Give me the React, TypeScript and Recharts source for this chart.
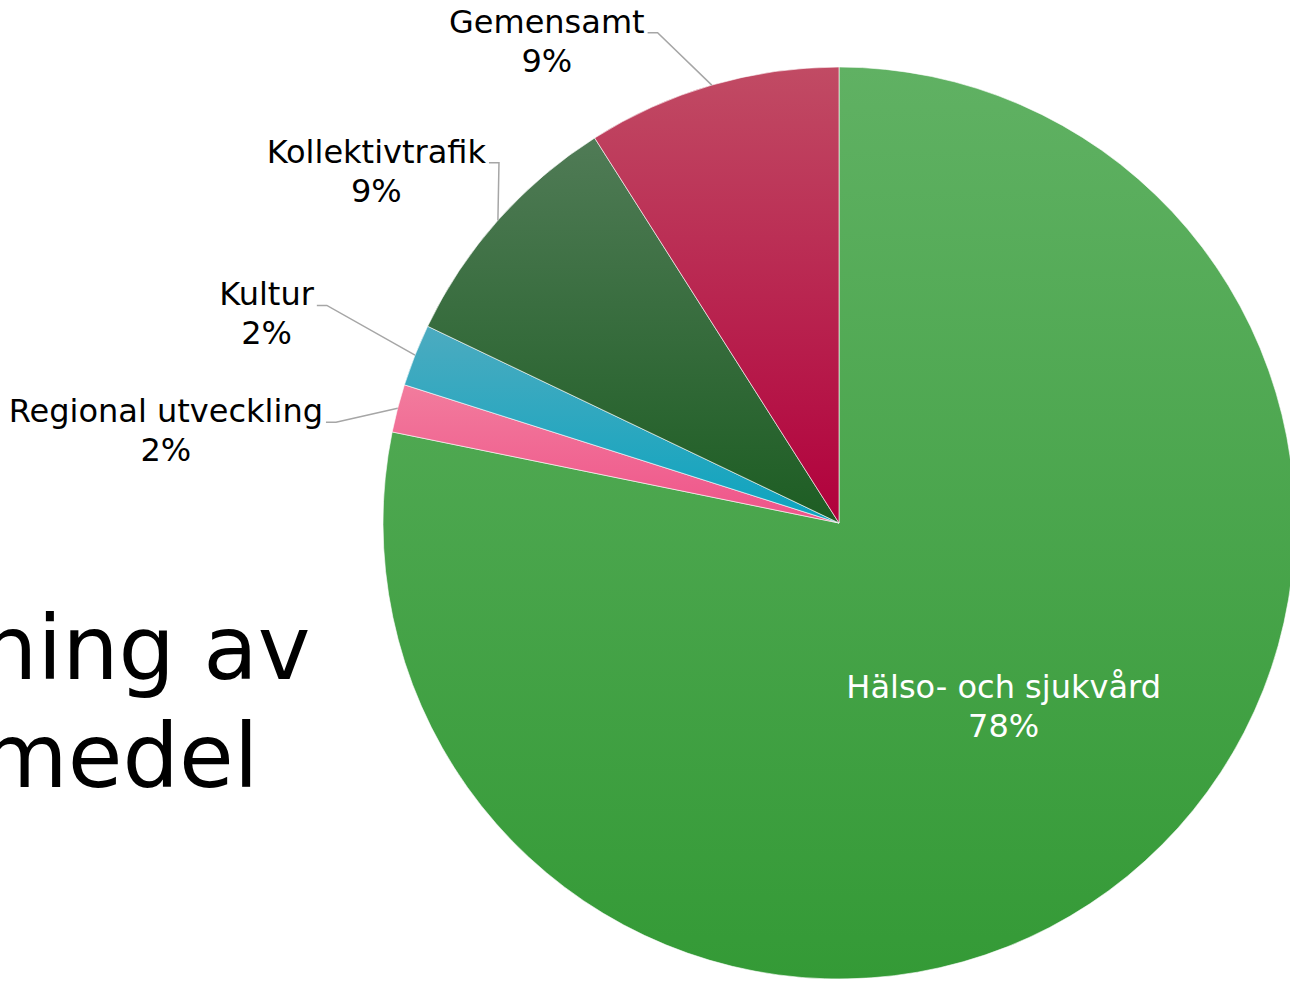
import { Cell, Pie, PieChart } from "recharts";

const sliceNames = [
  "Hälso- och sjukvård",
  "Regional utveckling",
  "Kultur",
  "Kollektivtrafik",
  "Gemensamt",
];
const sliceShares = [78.2, 1.7, 2.2, 8.9, 9.0];

const titleLines = ["ning av", "medel"];

// vertical gradient per slice: light top -> darker bottom
const topColors = ["#60b163", "#f27c9d", "#4cabc0", "#507b56", "#c14b64"];
const bottomColors = ["#349a36", "#ef5389", "#0ca4bf", "#1d5d23", "#b1003c"];

// hand tweaks of the label anchors (Office "best fit" placement)
const labelNudge: [number, number][] = [
  [6, -11],
  [-23, 24],
  [-51, -35],
  [31, -31],
  [-43, -14],
];

const W = 1290;
const H = 983;
const FONT = "DejaVu Sans";
const LABEL_SIZE = 32;
const LINE_GAP = 39;
const RAD = Math.PI / 180;

const pieData = sliceNames.map((name, i) => ({ name, value: sliceShares[i] }));

let measureCtx: CanvasRenderingContext2D | null = null;
function textWidth(s: string) {
  if (!measureCtx) measureCtx = document.createElement("canvas").getContext("2d");
  if (!measureCtx) return s.length * LABEL_SIZE * 0.6;
  measureCtx.font = `${LABEL_SIZE}px "${FONT}"`;
  return measureCtx.measureText(s).width;
}

function renderLabel(props: any) {
  const { cx, cy, midAngle, outerRadius, percent, index, name } = props;
  const pct = `${Math.round(percent * 100)}%`;
  const cos = Math.cos(-midAngle * RAD);
  const sin = Math.sin(-midAngle * RAD);
  const [nx, ny] = labelNudge[index] ?? [0, 0];

  if (index === 0) {
    const r = outerRadius * 0.55;
    const x = cx + r * cos + nx;
    const y = cy + r * sin + ny;
    return (
      <text
        key={`lbl-${index}`}
        x={x}
        y={y - 8}
        fill="#ffffff"
        textAnchor="middle"
        fontFamily={FONT}
        fontSize={LABEL_SIZE}
      >
        <tspan x={x} y={y - 8}>{name}</tspan>
        <tspan x={x} y={y - 8 + LINE_GAP}>{pct}</tspan>
      </text>
    );
  }

  const ex = cx + outerRadius * cos;
  const ey = cy + outerRadius * sin;
  const kx = cx + (outerRadius + 40) * cos + nx;
  const ky = cy + (outerRadius + 40) * sin + ny;
  const endX = kx - 10;
  const w = textWidth(name);
  const mid = endX - 3 - w / 2;

  return (
    <g key={`lbl-${index}`}>
      <polyline
        points={`${ex},${ey} ${kx},${ky} ${endX},${ky}`}
        fill="none"
        stroke="#a6a6a6"
        strokeWidth={1.5}
      />
      <text fill="#000000" textAnchor="middle" fontFamily={FONT} fontSize={LABEL_SIZE}>
        <tspan x={mid} y={ky}>{name}</tspan>
        <tspan x={mid} y={ky + LINE_GAP}>{pct}</tspan>
      </text>
    </g>
  );
}

export default function App() {
  return (
    <div
      style={{
        position: "absolute",
        left: 0,
        top: 0,
        width: W,
        height: H,
        overflow: "hidden",
        background: "#ffffff",
      }}
    >
      <div
        style={{
          position: "absolute",
          left: -19,
          top: 594,
          fontFamily: FONT,
          fontSize: 89,
          lineHeight: "108px",
          color: "#000000",
          whiteSpace: "pre",
        }}
      >
        {titleLines.map((t) => (
          <div key={t}>{t}</div>
        ))}
      </div>
      <div style={{ position: "absolute", left: 0, top: 0 }}>
        <PieChart width={W} height={H} margin={{ top: 0, right: 0, bottom: 0, left: 0 }}>
          <defs>
            {topColors.map((c, i) => (
              <linearGradient key={i} id={`slice-${i}`} x1="0" y1="0" x2="0" y2="1">
                <stop offset="0%" stopColor={c} />
                <stop offset="100%" stopColor={bottomColors[i]} />
              </linearGradient>
            ))}
          </defs>
          <Pie
            data={pieData}
            dataKey="value"
            nameKey="name"
            cx={839}
            cy={523}
            outerRadius={456}
            startAngle={90}
            endAngle={-270}
            stroke="#ffffff"
            strokeWidth={1}
            strokeOpacity={0.6}
            label={renderLabel}
            labelLine={false}
            isAnimationActive={false}
          >
            {pieData.map((d, i) => (
              <Cell key={d.name} fill={`url(#slice-${i})`} />
            ))}
          </Pie>
        </PieChart>
      </div>
    </div>
  );
}
